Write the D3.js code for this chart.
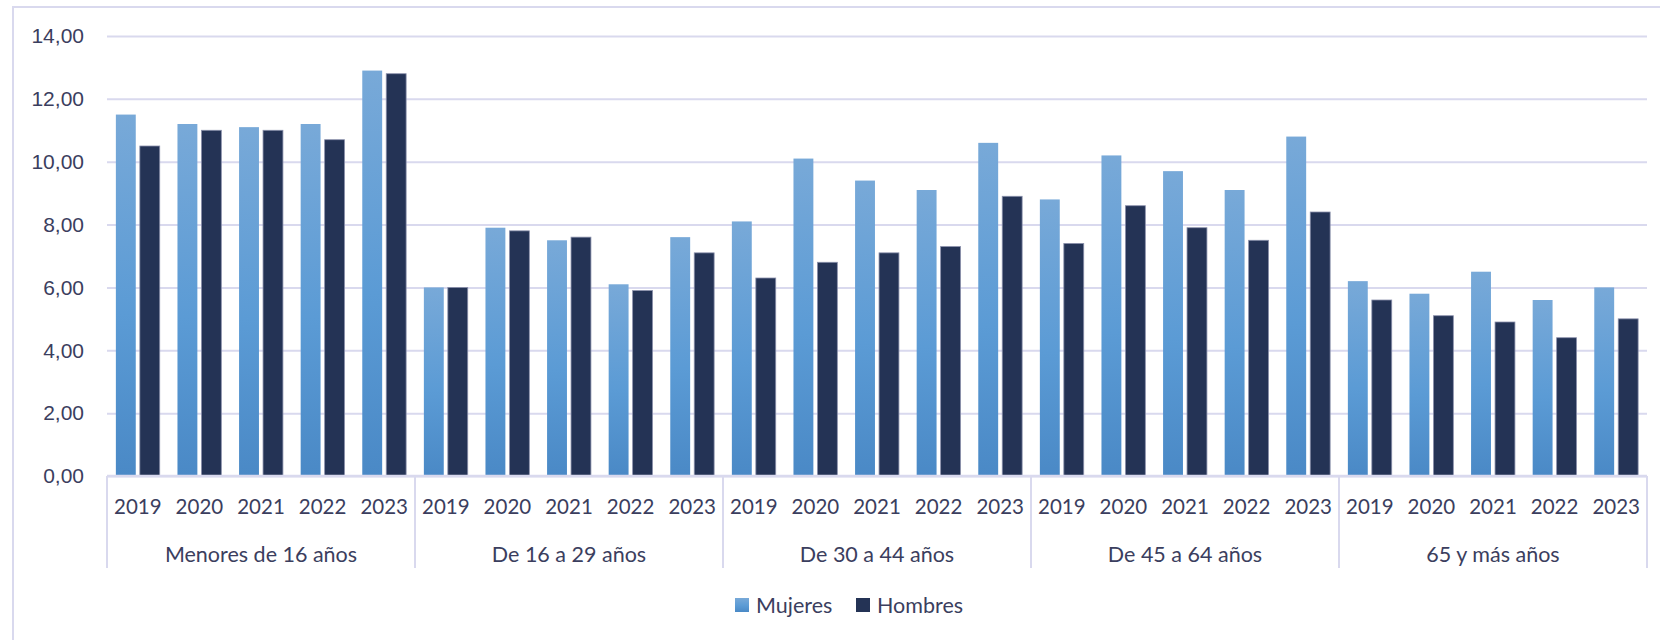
<!DOCTYPE html>
<html>
<head>
<meta charset="utf-8">
<script src="https://cdn.jsdelivr.net/npm/d3@7"></script>
<style>
	body { margin: 0; background: #ffffff; }
	svg { display: block; font-family: Lato, 'Open Sans', sans-serif; }
</style>
</head>
<body>
<script>
const groups = ['Menores de 16 años', 'De 16 a 29 años', 'De 30 a 44 años', 'De 45 a 64 años', '65 y más años'];
const years = ['2019', '2020', '2021', '2022', '2023'];
const series = ['Mujeres', 'Hombres'];
const y_ticks = [0, 2, 4, 6, 8, 10, 12, 14];

// one row per group, one value per year
const mujeres = [
	[11.5, 11.2, 11.1, 11.2, 12.9],
	[6.0, 7.9, 7.5, 6.1, 7.6],
	[8.1, 10.1, 9.4, 9.1, 10.6],
	[8.8, 10.2, 9.7, 9.1, 10.8],
	[6.2, 5.8, 6.5, 5.6, 6.0]
];
const hombres = [
	[10.5, 11.0, 11.0, 10.7, 12.8],
	[6.0, 7.8, 7.6, 5.9, 7.1],
	[6.3, 6.8, 7.1, 7.3, 8.9],
	[7.4, 8.6, 7.9, 7.5, 8.4],
	[5.6, 5.1, 4.9, 4.4, 5.0]
];

function init()
{
	const width = 1660;
	const height = 640;
	const plot = {left: 107, right: 1647, top: 36, bottom: 476};
	const text_color = '#3b3e5e';
	const line_color = '#d9d9ee';

	var svg = d3.select('body').append('svg')
				.attr('width', width)
				.attr('height', height);

	var defs = svg.append('defs');
	var grad = defs.append('linearGradient')
					.attr('id', 'grad_m')
					.attr('x1', 0).attr('y1', 0)
					.attr('x2', 0).attr('y2', 1);
	grad.append('stop').attr('offset', '0%').attr('stop-color', '#78a9d8');
	grad.append('stop').attr('offset', '55%').attr('stop-color', '#5b9bd5');
	grad.append('stop').attr('offset', '100%').attr('stop-color', '#4a89c6');

	// chart area frame
	svg.append('rect')
		.attr('x', 13).attr('y', 7)
		.attr('width', width).attr('height', height)
		.attr('fill', 'none')
		.attr('stroke', line_color)
		.attr('stroke-width', 2);

	var y = d3.scaleLinear()
				.domain([0, 14])
				.range([plot.bottom, plot.top]);

	var x_group = d3.scaleBand()
					.domain(groups)
					.range([plot.left, plot.right]);

	var x_year = d3.scaleBand()
					.domain(years)
					.range([0, x_group.bandwidth()]);

	var x_series = d3.scaleBand()
					.domain(series)
					.range([0, x_year.bandwidth()])
					.paddingInner(0.17)
					.paddingOuter(0.37);

	// gridlines + y labels
	var y_axis = svg.append('g')
					.attr('transform', 'translate(' + plot.left + ',0)')
					.call(d3.axisLeft(y)
							.tickValues(y_ticks)
							.tickSize(-(plot.right - plot.left))
							.tickPadding(23)
							.tickFormat(function(d) { return d3.format('.2f')(d).replace('.', ','); }));
	y_axis.select('.domain').remove();
	y_axis.selectAll('.tick line')
		.attr('stroke', line_color)
		.attr('stroke-width', 2);
	y_axis.selectAll('.tick text')
		.attr('fill', text_color)
		.style('font-size', '21px');

	var color = {Mujeres: 'url(#grad_m)', Hombres: '#243355'};
	var values = {Mujeres: mujeres, Hombres: hombres};

	var bar_data = [];
	groups.forEach(function(g, gi)
	{
		years.forEach(function(yr, yi)
		{
			series.forEach(function(s)
			{
				bar_data.push({group: g, year: yr, series: s, value: values[s][gi][yi]});
			});
		});
	});

	svg.append('g')
		.selectAll('rect')
		.data(bar_data)
		.enter()
		.append('rect')
			.attr('x', function(d) { return x_group(d.group) + x_year(d.year) + x_series(d.series); })
			.attr('y', function(d) { return y(d.value); })
			.attr('width', x_series.bandwidth())
			.attr('height', function(d) { return y(0) - y(d.value); })
			.attr('fill', function(d) { return color[d.series]; })
			.attr('stroke', function(d) { return d.series == 'Hombres' ? '#8a90ab' : 'none'; })
			.attr('stroke-width', 0.8);

	// category axis
	svg.append('line')
		.attr('x1', plot.left).attr('x2', plot.right)
		.attr('y1', y(0)).attr('y2', y(0))
		.attr('stroke', line_color)
		.attr('stroke-width', 2.5);

	var separators = groups.map(function(g) { return x_group(g); }).concat([plot.right]);
	svg.append('g')
		.selectAll('line')
		.data(separators)
		.enter()
		.append('line')
			.attr('x1', function(d) { return d; })
			.attr('x2', function(d) { return d; })
			.attr('y1', y(0))
			.attr('y2', 568)
			.attr('stroke', line_color)
			.attr('stroke-width', 2);

	var year_labels = [];
	groups.forEach(function(g) { years.forEach(function(yr) { year_labels.push({group: g, year: yr}); }); });

	svg.append('g')
		.selectAll('text')
		.data(year_labels)
		.enter()
		.append('text')
			.attr('x', function(d) { return x_group(d.group) + x_year(d.year) + x_year.bandwidth() / 2; })
			.attr('y', 507)
			.attr('dy', '0.35em')
			.attr('text-anchor', 'middle')
			.attr('fill', text_color)
			.style('font-size', '20.5px')
			.text(function(d) { return d.year; });

	svg.append('g')
		.selectAll('text')
		.data(groups)
		.enter()
		.append('text')
			.attr('x', function(d) { return x_group(d) + x_group.bandwidth() / 2; })
			.attr('y', 554)
			.attr('dy', '0.35em')
			.attr('text-anchor', 'middle')
			.attr('fill', text_color)
			.style('font-size', '21.5px')
			.text(function(d) { return d; });

	// legend
	var legend_x = {Mujeres: 735, Hombres: 856};
	var legend = svg.append('g')
					.selectAll('g')
					.data(series)
					.enter()
					.append('g')
						.attr('transform', function(d) { return 'translate(' + legend_x[d] + ',598)'; });
	legend.append('rect')
		.attr('width', 14)
		.attr('height', 14)
		.attr('fill', function(d) { return color[d]; });
	legend.append('text')
		.attr('x', 21)
		.attr('y', 7)
		.attr('dy', '0.35em')
		.attr('fill', text_color)
		.style('font-size', '21.5px')
		.text(function(d) { return d; });
}

init();
</script>
</body>
</html>
